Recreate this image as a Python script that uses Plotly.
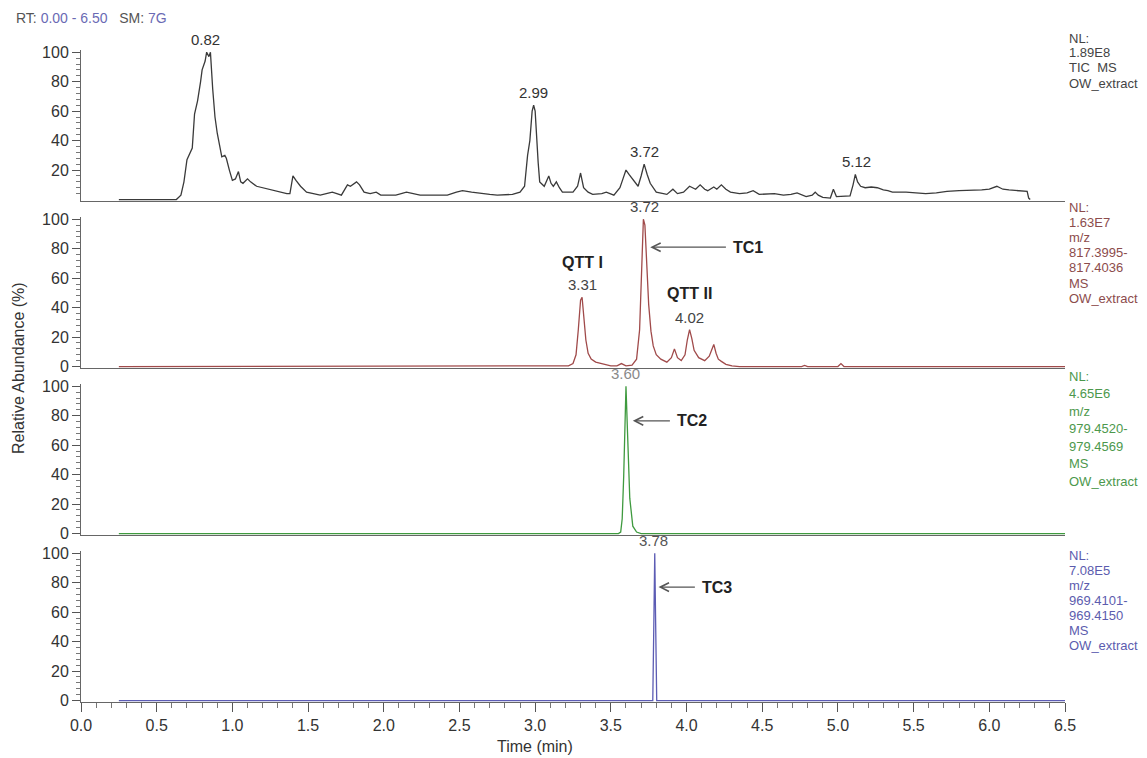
import plotly.graph_objects as go

# ---------------- data ----------------
tic_time = [
    0.25, 0.63, 0.66, 0.68, 0.70, 0.72, 0.735, 0.75, 0.77, 0.79,
    0.80, 0.82, 0.83, 0.845, 0.855, 0.87, 0.885, 0.90, 0.93, 0.95,
    0.96, 0.98, 1.00, 1.02, 1.04, 1.055, 1.07, 1.10, 1.12, 1.16,
    1.20, 1.23, 1.27, 1.31, 1.36, 1.38, 1.40, 1.42, 1.45, 1.49,
    1.53, 1.58, 1.62, 1.66, 1.69, 1.72, 1.76, 1.78, 1.82, 1.84,
    1.87, 1.91, 1.95, 1.98, 2.02, 2.08, 2.15, 2.20, 2.24, 2.30,
    2.42, 2.48, 2.52, 2.58, 2.64, 2.70, 2.75, 2.80, 2.85, 2.90,
    2.93, 2.95, 2.965, 2.98, 2.99, 3.00, 3.01, 3.02, 3.03, 3.06,
    3.09, 3.105, 3.12, 3.14, 3.16, 3.18, 3.25, 3.28, 3.30, 3.32,
    3.35, 3.38, 3.44, 3.47, 3.52, 3.56, 3.58, 3.60, 3.62, 3.65,
    3.68, 3.70, 3.72, 3.74, 3.76, 3.80, 3.87, 3.91, 3.94, 3.98,
    4.02, 4.06, 4.09, 4.12, 4.14, 4.18, 4.20, 4.23, 4.26, 4.29,
    4.35, 4.40, 4.44, 4.48, 4.53, 4.58, 4.64, 4.69, 4.73, 4.76,
    4.79, 4.83, 4.85, 4.87, 4.90, 4.95, 4.97, 4.99, 5.05, 5.08,
    5.10, 5.115, 5.13, 5.15, 5.18, 5.22, 5.26, 5.30, 5.33, 5.36,
    5.45, 5.50, 5.58, 5.65, 5.72, 5.80, 5.89, 5.95, 6.00, 6.03,
    6.05, 6.07, 6.09, 6.13, 6.18, 6.22, 6.25, 6.26, 6.27]
tic_int = [
    0, 0, 3, 12, 27, 32, 35, 58, 67, 80,
    88, 94, 100, 97, 100, 75, 56, 45, 29, 30,
    28, 20, 13, 14, 19, 12, 11, 14, 12, 9,
    8, 7, 6, 5, 4, 4, 16, 13, 9, 5,
    4, 3, 4, 5, 4, 3, 10, 9, 12, 10,
    5, 4, 5, 3, 3, 3, 5, 4, 3, 3,
    3, 5, 6, 5, 4, 3.5, 3, 3, 3.5, 5,
    9, 30, 40, 60, 64, 60, 40, 25, 12, 9,
    16, 11, 9, 12, 8, 5, 5, 9, 18, 8,
    5, 3.5, 4, 5, 3, 8, 14, 20, 17, 13,
    9, 16, 24, 17, 11, 5, 3.5, 7, 4, 5,
    9, 7, 10, 7, 6, 8.5, 7, 10, 7, 5,
    4, 4.5, 6, 3.5, 3.5, 4, 3, 3.5, 4.5, 3,
    2, 3, 5, 3, 1.5, 1, 7, 2, 2, 2.5,
    10, 17, 12, 9, 8, 8.5, 8, 6.5, 6, 5,
    5, 4.5, 4, 4.5, 5.5, 6, 6, 6.5, 7, 8,
    9, 8, 7, 6.5, 6, 6, 5.5, 1, 0]

tc1_time = [0.25, 3.18, 3.22, 3.25, 3.27, 3.285, 3.30, 3.31, 3.32, 3.335,
            3.35, 3.37, 3.40, 3.45, 3.50, 3.54, 3.57, 3.60, 3.64, 3.67,
            3.69, 3.705, 3.715, 3.725, 3.735, 3.75, 3.765, 3.78, 3.80, 3.83,
            3.87, 3.90, 3.92, 3.94, 3.965, 3.99, 4.005, 4.02, 4.035, 4.05,
            4.08, 4.12, 4.15, 4.17, 4.18, 4.195, 4.21, 4.23, 4.26, 4.30,
            4.35, 4.76, 4.78, 4.80, 5.00, 5.02, 5.04, 6.50]
tc1_int = [0, 0, 0.5, 2, 8, 25, 45, 47, 36, 18,
           9, 5, 3, 1.5, 0.5, 0.5, 2, 0.5, 1, 5,
           25, 70, 100, 96, 72, 42, 24, 14, 8, 5,
           3, 6, 12, 6, 4, 8, 18, 25, 19, 11,
           6, 4, 7, 13, 15, 9, 5, 3.5, 1.5, 0.5,
           0, 0, 0.8, 0, 0, 2, 0, 0]

tc2_time = [0.25, 3.55, 3.565, 3.575, 3.585, 3.595, 3.60, 3.61, 3.625, 3.645, 3.67, 3.70, 6.50]
tc2_int = [0, 0, 1, 10, 39, 91, 100, 69, 24, 5, 1, 0, 0]

tc3_time = [0.25, 3.777, 3.785, 3.79, 3.795, 3.803, 6.50]
tc3_int = [0, 0, 60, 100, 60, 0, 0]

tic_peaks = [0.82, 2.99, 3.72, 5.12]
tc1_peaks = [3.31, 3.72, 4.02]
tc2_peaks = [3.60]
tc3_peaks = [3.78]

x_ticks = [0.0, 0.5, 1.0, 1.5, 2.0, 2.5, 3.0, 3.5, 4.0, 4.5, 5.0, 5.5, 6.0, 6.5]
y_ticks = [0, 20, 40, 60, 80, 100]
y_minor = [4, 8, 12, 16, 24, 28, 32, 36, 44, 48, 52, 56, 64, 68, 72, 76, 84, 88, 92, 96]

panel_text = [
    ["NL:", "1.89E8", "TIC  MS", "OW_extract"],
    ["NL:", "1.63E7", "m/z", "817.3995-", "817.4036", "MS", "OW_extract"],
    ["NL:", "4.65E6", "m/z", "979.4520-", "979.4569", "MS", "OW_extract"],
    ["NL:", "7.08E5", "m/z", "969.4101-", "969.4150", "MS", "OW_extract"],
]

# ---------------- styling / layout ----------------
FONT = "Liberation Sans, Arial, Helvetica, sans-serif"
OFF = 8                      # page body margin of the html page
W, H = 1147 - OFF, 758 - OFF
# plot area in screen pixels: x 81..1065, y 50..702
ML, MR = 81 - OFF, W - (1065 - OFF)
MT, MB = 50 - OFF, H - (702 - OFF)
PH = H - MT - MB
PW = W - ML - MR


def py(px):
    """screen pixel row -> paper y"""
    return (702 - px) / PH


def pxp(px):
    """screen pixel column -> paper x"""
    return (px - 81) / PW


baselines = [201, 368, 535, 702]
panel_h = 151
trace_colors = ["#3a3a3a", "#a04a4a", "#3f9a3f", "#5c5cb4"]
text_colors = ["#444444", "#8c4c4c", "#4c984c", "#5c5cae"]
label_start = [38, 207, 376, 555]
label_step = [15, 15.2, 17.5, 15]

series = [(tic_time, tic_int), (tc1_time, tc1_int), (tc2_time, tc2_int), (tc3_time, tc3_int)]
peaks = [tic_peaks, tc1_peaks, tc2_peaks, tc3_peaks]
peak_colors = ["#333333", "#444444", "#8a8a8a", "#555555"]

fig = go.Figure()
layout = dict(
    width=W, height=H,
    margin=dict(l=ML, r=MR, t=MT, b=MB, autoexpand=False),
    paper_bgcolor="white", plot_bgcolor="white",
    showlegend=False,
    font=dict(family=FONT, color="#333333"),
)

annotations = []


def axname(i, kind):
    return kind if i == 0 else f"{kind}{i + 1}"


for i in range(4):
    xa, ya = axname(i, "x"), axname(i, "y")
    t, v = series[i]
    fig.add_trace(go.Scatter(x=t, y=v, mode="lines", xaxis=xa, yaxis=ya,
                             line=dict(color=trace_colors[i], width=1.3),
                             hoverinfo="skip"))
    bottom = i == 3
    xkey = "xaxis" if i == 0 else f"xaxis{i + 1}"
    ykey = "yaxis" if i == 0 else f"yaxis{i + 1}"
    xd = dict(anchor=ya, domain=[0, 1], range=[0, 6.5], showline=True,
              linecolor="#666666", linewidth=1, showgrid=False, zeroline=False,
              automargin=False)
    if bottom:
        xd.update(tickvals=x_ticks, ticktext=[f"{x:.1f}" for x in x_ticks],
                  ticks="outside", ticklen=9, tickcolor="#555555",
                  tickfont=dict(size=16, color="#333333"),
                  minor=dict(dtick=0.1, tick0=0, ticks="outside", ticklen=5,
                             tickcolor="#777777", showgrid=False))
    else:
        xd.update(matches="x4", showticklabels=False, ticks="")
    layout[xkey] = xd
    yt = y_ticks[1:] if i == 0 else y_ticks
    layout[ykey] = dict(
        anchor=xa, domain=[py(baselines[i]), py(baselines[i] - panel_h)],
        range=[-1, 101.5], showline=True, linecolor="#666666", linewidth=1,
        showgrid=False, zeroline=False, automargin=False,
        tickvals=yt, ticktext=[str(y) for y in yt],
        ticks="outside", ticklen=8, tickcolor="#555555",
        tickfont=dict(size=16, color="#333333"),
        minor=dict(tickvals=y_minor, ticks="outside", ticklen=4,
                   tickcolor="#777777", showgrid=False),
    )

    # peak labels
    for p in peaks[i]:
        val = max(vv for tt, vv in zip(t, v) if abs(tt - p) <= 0.03)
        annotations.append(dict(x=p, y=val, xref=xa, yref=ya, text=f"{p:.2f}",
                                showarrow=False, yanchor="bottom", yshift=2,
                                font=dict(size=15, color=peak_colors[i], family=FONT)))

    # right-hand info text
    for k, line in enumerate(panel_text[i]):
        annotations.append(dict(x=1.0 + 2 / PW, y=py(label_start[i] + k * label_step[i]),
                                xref="paper", yref="paper", text=line.replace(" ", "\u00a0"),
                                showarrow=False, xanchor="left", yanchor="middle",
                                font=dict(size=13, color=text_colors[i], family=FONT)))

# QTT labels (bold) above the TC1 peaks
for name, p, shift in [("QTT I", 3.31, 24), ("QTT II", 4.02, 26)]:
    val = max(vv for tt, vv in zip(tc1_time, tc1_int) if abs(tt - p) <= 0.03)
    annotations.append(dict(x=p, y=val, xref="x2", yref="y2", text=f"<b>{name}</b>",
                            showarrow=False, yanchor="bottom", yshift=shift,
                            font=dict(size=16, color="#222222", family=FONT)))

# TC arrows and labels: (panel, head time, tail time, y level, label)
tc_labels = [(1, 3.76, 4.27, 81, "TC1"), (2, 3.645, 3.90, 76.5, "TC2"), (3, 3.815, 4.065, 77, "TC3")]
for i, head, tail, yv, name in tc_labels:
    xa, ya = axname(i, "x"), axname(i, "y")
    annotations.append(dict(x=head, y=yv, ax=tail, ay=yv, xref=xa, yref=ya,
                            axref=xa, ayref=ya, text="", showarrow=True,
                            arrowhead=5, arrowsize=1.3, arrowwidth=1.3,
                            arrowcolor="#555555", standoff=0))
    annotations.append(dict(x=tail, y=yv, xref=xa, yref=ya, text=f"<b>{name}</b>",
                            showarrow=False, xanchor="left", yanchor="middle", xshift=4,
                            font=dict(size=16, color="#222222", family=FONT)))

# header, axis titles
annotations.append(dict(
    x=pxp(14), y=py(18), xref="paper", yref="paper", xanchor="left", yanchor="middle",
    showarrow=False,
    text=("<span style='color:#555555'>RT:</span> <span style='color:#6a6ab4'>0.00 - 6.50</span>"
          "\u00a0\u00a0\u00a0<span style='color:#555555'>SM:</span> <span style='color:#6a6ab4'>7G</span>"),
    font=dict(size=14, family=FONT)))
annotations.append(dict(x=pxp(18), y=py(368), xref="paper", yref="paper",
                        text="Relative Abundance (%)", textangle=-90, showarrow=False,
                        xanchor="center", yanchor="middle",
                        font=dict(size=16, color="#333333", family=FONT)))
annotations.append(dict(x=3.0, y=py(746), xref="x4", yref="paper", text="Time (min)",
                        showarrow=False, xanchor="center", yanchor="middle",
                        font=dict(size=16, color="#333333", family=FONT)))

layout["annotations"] = annotations
fig.update_layout(**layout)
fig.write_html("out.html")
